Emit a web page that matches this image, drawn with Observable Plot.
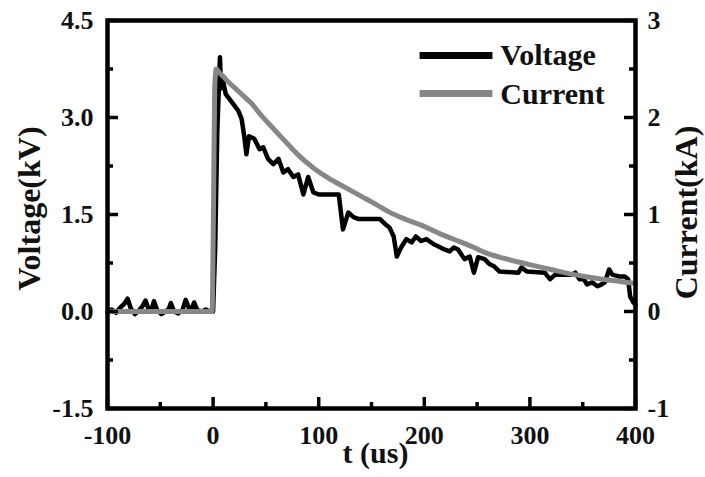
<!DOCTYPE html>
<html>
<head>
<meta charset="utf-8">
<script src="https://cdn.jsdelivr.net/npm/d3@7"></script>
<script src="https://cdn.jsdelivr.net/npm/@observablehq/plot@0.6"></script>
<style>
  body { margin: 0; background: #fff; }
  #chart svg, #chart svg text { font-family: "Liberation Serif", "Times New Roman", serif !important; font-weight: bold; }
</style>
</head>
<body>
<div id="chart"></div>
<script>
// ---- data ----
const vT = [-100,-96,-92,-88,-84,-81,-78,-74,-70,-67,-64,-61,-58,-56,-53,-49,-45,-42,-40,-37,-33,-29,-26,-23,-20,-18,-15,-11,-7,-3,0,2,4,6.5,7.5,9,12,19,24,27,29.5,31.5,34,39,44,47.5,52,57,62,66.5,71,76,80.5,85.5,90,95,100,119,123,128,133,138,158,163,167,171,174,178,183,188,192,197,202,209,213,219,224,228,232,238,243,247,251,257,262,266,271,289,292,297,314,319,324,340,343,347,351,354,359,364,368,371,375,378,385,390,393,395,398,400];
const vV = [0,0.03,-0.02,0.06,0.12,0.2,0.05,-0.04,0.02,0.08,0.17,0.03,0.05,0.16,0.02,-0.04,0,0.04,0.13,0,-0.03,0.02,0.18,0.06,0.05,0.14,0.02,0,0.03,0,0,1.0,2.8,3.93,3.45,3.6,3.36,3.21,3.1,2.98,2.71,2.43,2.71,2.67,2.51,2.54,2.36,2.28,2.36,2.15,2.2,2.08,2.12,1.81,2.08,1.84,1.81,1.81,1.27,1.53,1.46,1.43,1.43,1.35,1.3,1.16,0.85,0.99,1.12,1.07,1.16,1.09,1.12,1.04,1.01,0.96,0.93,0.99,0.96,0.81,0.85,0.6,0.84,0.81,0.73,0.70,0.62,0.6,0.68,0.62,0.6,0.5,0.57,0.57,0.6,0.5,0.5,0.42,0.45,0.39,0.42,0.45,0.65,0.57,0.54,0.54,0.5,0.23,0.14,0.1];
const cT = [-100,-1,0.5,1.5,3,6,10,15,22,30,36,45,55,67,80,95,110,125,140,155,166,180,197,215,229,245,257,275,289,305,321,337,352,370,385,400];
const cI = [0,0,1.2,2.3,2.5,2.46,2.42,2.36,2.29,2.21,2.15,2.03,1.91,1.77,1.62,1.48,1.37,1.28,1.19,1.1,1.03,0.96,0.89,0.8,0.74,0.67,0.61,0.55,0.51,0.47,0.43,0.39,0.36,0.33,0.31,0.29];

const xTicks = [-100, 0, 100, 200, 300, 400];
const xMinor = [-50, 50, 150, 250, 350];
const vTicks = [-1.5, 0, 1.5, 3, 4.5];
const vMinor = [-0.75, 0.75, 2.25, 3.75];
const cTicks = [-1, 0, 1, 2, 3];
const seriesNames = ["Voltage", "Current"];
const xLabel = "t (us)";
const yLeftLabel = "Voltage(kV)";
const yRightLabel = "Current(kA)";

// current (kA) shares the voltage axis: 3 kA <-> 4.5 kV
const ratio = 1.5;
const voltage = vT.map((t, i) => ({t, v: vV[i]}));
const current = cT.map((t, i) => ({t, v: cI[i] * ratio}));

// ---- layout ----
const W = 705, H = 477, mL = 107, mR = 70, mT = 20, mB = 69;
const pw = W - mL - mR, ph = H - mT - mB;
const font = "Liberation Serif";
const ink = "#111";
const gray = "#878787";
const major = 11, minor = 6, tw = 3.5;
const tickStyle = {stroke: "#000", strokeWidth: tw};
const txt = {fontFamily: font, fontWeight: "bold", fill: ink};

const chart = Plot.plot({
  width: W, height: H,
  marginLeft: mL, marginRight: mR, marginTop: mT, marginBottom: mB,
  style: {background: "#fff", color: ink},
  x: {domain: [-100, 400]},
  y: {domain: [-1.5, 4.5]},
  marks: [
    Plot.line(voltage, {x: "t", y: "v", stroke: "#000", strokeWidth: 4.5, strokeLinejoin: "round"}),
    Plot.line(current, {x: "t", y: "v", stroke: gray, strokeWidth: 5, curve: "monotone-x"}),
    // inward ticks
    Plot.tickY(vTicks, {y: d => d, insetRight: pw - major, ...tickStyle}),
    Plot.tickY(vMinor, {y: d => d, insetRight: pw - minor, ...tickStyle}),
    Plot.tickY(cTicks, {y: d => d * ratio, insetLeft: pw - major, ...tickStyle}),
    Plot.tickY(vMinor, {y: d => d, insetLeft: pw - minor, ...tickStyle}),
    Plot.tickX(xTicks, {x: d => d, insetTop: ph - major, ...tickStyle}),
    Plot.tickX(xMinor, {x: d => d, insetTop: ph - minor, ...tickStyle}),
    // tick labels
    Plot.axisY({anchor: "left", ticks: vTicks, tickSize: 0, tickPadding: 14, tickFormat: d => d.toFixed(1), fontSize: 26, ...txt, label: null}),
    Plot.axisY({anchor: "right", ticks: cTicks.map(c => c * ratio), tickSize: 0, tickPadding: 12, tickFormat: d => String(Math.round(d / ratio)), fontSize: 26, ...txt, label: null}),
    Plot.axisX({anchor: "bottom", ticks: xTicks, tickSize: 0, tickPadding: 17, tickFormat: d => String(d), fontSize: 26, ...txt, label: null}),
    Plot.frame({stroke: "#000", strokeWidth: 4.5}),
    // axis titles
    Plot.text([yLeftLabel], {frameAnchor: "left", textAnchor: "middle", lineAnchor: "middle", dx: -78, dy: -6, rotate: -90, fontSize: 32, ...txt}),
    Plot.text([yRightLabel], {frameAnchor: "right", textAnchor: "middle", lineAnchor: "middle", dx: 51, dy: -2, rotate: -90, fontSize: 32, ...txt}),
    Plot.text([xLabel], {frameAnchor: "bottom", textAnchor: "middle", lineAnchor: "middle", dx: 4, dy: 45, fontSize: 30, ...txt}),
    // legend
    Plot.ruleY([3.96], {x1: 196, x2: 265, stroke: "#000", strokeWidth: 7}),
    Plot.ruleY([3.37], {x1: 196, x2: 265, stroke: gray, strokeWidth: 7}),
    Plot.text([seriesNames[0]], {x: 272, y: 3.96, textAnchor: "start", fontSize: 30, ...txt}),
    Plot.text([seriesNames[1]], {x: 272, y: 3.36, textAnchor: "start", fontSize: 30, ...txt})
  ]
});
document.getElementById("chart").appendChild(chart);
</script>
</body>
</html>
